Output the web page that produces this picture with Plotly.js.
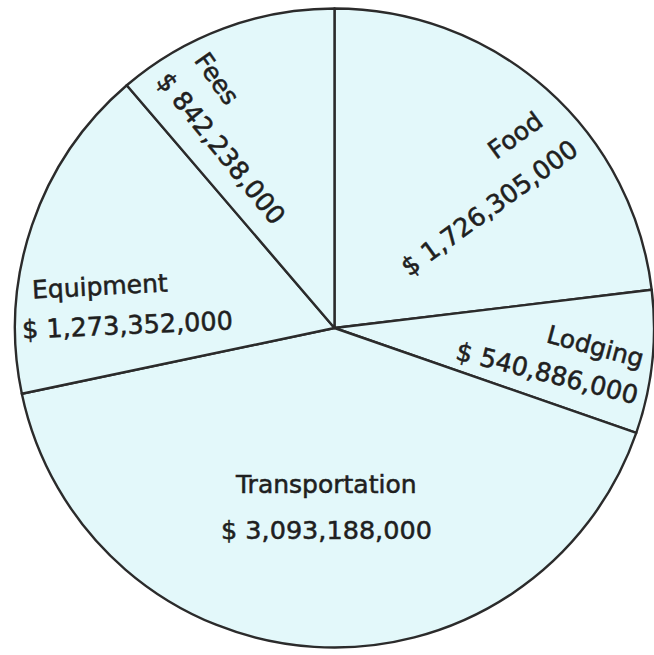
<!DOCTYPE html>
<html>
<head>
<meta charset="utf-8">
<script src="https://cdn.plot.ly/plotly-3.0.1.min.js"></script>
<style>
  html, body { margin: 0; padding: 0; background: #ffffff; overflow: hidden; }
  #chart { width: 654px; height: 655px; }
  #chart .annotation-text { stroke: #1f1f1f; stroke-width: 0.55px; }
</style>
</head>
<body>
<div id="chart"></div>
<script>
// ---- Data ----
const categories = ["Food", "Lodging", "Transportation", "Equipment", "Fees"];
const amounts = [1726305000, 540886000, 3093188000, 1273352000, 842238000];
const valueLabels = ["$ 1,726,305,000", "$ 540,886,000", "$ 3,093,188,000", "$ 1,273,352,000", "$ 842,238,000"];

// ---- Label layout (pixel centres and angles of each label line) ----
const W = 654, H = 655;
const M = { l: 15, r: 0, t: 8, b: 7 };
const PW = W - M.l - M.r, PH = H - M.t - M.b;
const nameStyle = {
  Food:           { x: 515, y: 135, a: -36 },
  Lodging:        { x: 595, y: 346, a: 15 },
  Transportation: { x: 326, y: 484, a: 0 },
  Equipment:      { x: 100, y: 286, a: -3 },
  Fees:           { x: 217, y: 78,  a: 55 }
};
const valueStyle = {
  Food:           { x: 489, y: 208, a: -36 },
  Lodging:        { x: 547, y: 373, a: 14 },
  Transportation: { x: 326, y: 530, a: 0 },
  Equipment:      { x: 127, y: 325, a: -2.5 },
  Fees:           { x: 221, y: 148, a: 51 }
};

const px2x = px => (px - M.l) / PW;
const py2y = py => 1 - (py - M.t) / PH;
const textColor = "#1f1f1f";
const fontFam = "DejaVu Sans, Verdana, sans-serif";

const annotations = [];
categories.forEach((c, i) => {
  const n = nameStyle[c], v = valueStyle[c];
  annotations.push({
    text: c, xref: "paper", yref: "paper", x: px2x(n.x), y: py2y(n.y),
    xanchor: "center", yanchor: "middle", showarrow: false, textangle: n.a,
    font: { family: fontFam, size: 25, color: textColor }
  });
  annotations.push({
    text: valueLabels[i], xref: "paper", yref: "paper", x: px2x(v.x), y: py2y(v.y),
    xanchor: "center", yanchor: "middle", showarrow: false, textangle: v.a,
    font: { family: fontFam, size: 25.5, color: textColor }
  });
});

const trace = {
  type: "pie",
  labels: categories,
  values: amounts,
  sort: false,
  direction: "clockwise",
  rotation: 0,
  textinfo: "none",
  hoverinfo: "none",
  marker: {
    colors: categories.map(() => "#e3f8fa"),
    line: { color: "#2b2b2b", width: 2.4 }
  },
  domain: { x: [0, 1], y: [0, 1] }
};

const layout = {
  width: W, height: H,
  margin: M,
  paper_bgcolor: "#ffffff",
  plot_bgcolor: "#ffffff",
  showlegend: false,
  annotations: annotations
};

Plotly.newPlot("chart", [trace], layout, { displayModeBar: false, staticPlot: true });
</script>
</body>
</html>
